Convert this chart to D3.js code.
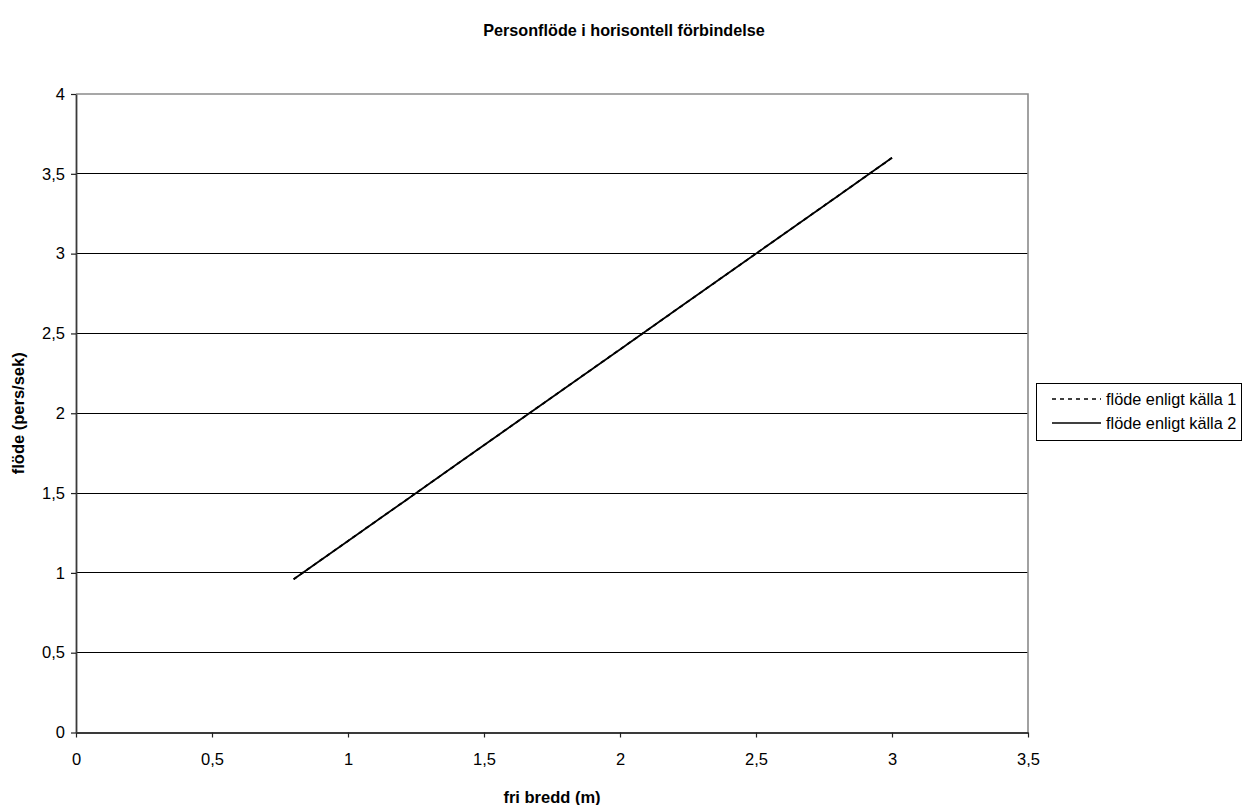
<!DOCTYPE html>
<html>
<head>
<meta charset="utf-8">
<script src="https://cdn.jsdelivr.net/npm/d3@7/dist/d3.min.js"></script>
<style>
  html, body { margin: 0; padding: 0; background: #fff; }
  svg { display: block; font-family: "Liberation Sans", Arial, sans-serif; }
</style>
</head>
<body>
<svg id="chart" width="1249" height="805"></svg>
<script>
// Free width (m) and person flow (pers/sek) per source
const widths = [0.8, 1.0, 1.2, 1.4, 1.6, 1.8, 2.0, 2.2, 2.4, 2.6, 2.8, 3.0];
const flowSource1 = [0.96, 1.2, 1.44, 1.68, 1.92, 2.16, 2.4, 2.64, 2.88, 3.12, 3.36, 3.6];
const flowSource2 = [0.96, 1.2, 1.44, 1.68, 1.92, 2.16, 2.4, 2.64, 2.88, 3.12, 3.36, 3.6];
const seriesNames = ["flöde enligt källa 1", "flöde enligt källa 2"];
const xTicks = [0, 0.5, 1, 1.5, 2, 2.5, 3, 3.5];
const yTicks = [0, 0.5, 1, 1.5, 2, 2.5, 3, 3.5, 4];

const titleText = "Personflöde i horisontell förbindelse";
const xTitle = "fri bredd (m)";
const yTitle = "flöde (pers/sek)";

const svg = d3.select("#chart");
const plot = { left: 76, right: 1028, top: 94, bottom: 732.5 };

const x = d3.scaleLinear().domain([0, 3.5]).range([plot.left, plot.right]);
const y = d3.scaleLinear().domain([0, 4]).range([plot.bottom, plot.top]);
const fmt = d => String(d).replace(".", ",");

// Horizontal gridlines
svg.append("g")
  .selectAll("line")
  .data(yTicks.filter(d => d > 0 && d < 4))
  .join("line")
  .attr("x1", plot.left).attr("x2", plot.right)
  .attr("y1", d => y(d)).attr("y2", d => y(d))
  .attr("stroke", "#000").attr("stroke-width", 1)
  .attr("shape-rendering", "crispEdges");

// Plot area border (top and right in grey)
svg.append("path")
  .attr("d", `M${plot.left},${plot.top}H${plot.right}V${plot.bottom}`)
  .attr("fill", "none").attr("stroke", "#8a8a8a").attr("stroke-width", 1.6);

// Axes
const xAxis = d3.axisBottom(x).tickValues(xTicks).tickFormat(fmt).tickSizeOuter(0).tickSizeInner(5).tickPadding(16);
const yAxis = d3.axisLeft(y).tickValues(yTicks).tickFormat(fmt).tickSizeOuter(0).tickSizeInner(5).tickPadding(6);

const gx = svg.append("g").attr("transform", `translate(0,${plot.bottom})`).call(xAxis);
const gy = svg.append("g").attr("transform", `translate(${plot.left},0)`).call(yAxis);
[gx, gy].forEach(g => {
  g.select("path.domain").attr("stroke", "#3a3a3a").attr("stroke-width", 1.8);
  g.selectAll(".tick line").attr("stroke", "#222").attr("stroke-width", 1.2);
  g.selectAll("text").attr("font-size", 16.5).attr("fill", "#000")
    .attr("font-family", "'Liberation Sans', Arial, sans-serif");
});

// Series lines
const line = d3.line().x((d, i) => x(widths[i])).y(d => y(d));
svg.append("path").datum(flowSource1)
  .attr("d", line).attr("fill", "none").attr("stroke", "#000")
  .attr("stroke-width", 1.8).attr("stroke-dasharray", "4,4");
svg.append("path").datum(flowSource2)
  .attr("d", line).attr("fill", "none").attr("stroke", "#000")
  .attr("stroke-width", 1.8);

// Titles
svg.append("text").attr("x", 624).attr("y", 36).attr("text-anchor", "middle")
  .attr("font-size", 16.2).attr("font-weight", "bold").text(titleText);
svg.append("text").attr("x", 552).attr("y", 803).attr("text-anchor", "middle")
  .attr("font-size", 16.5).attr("font-weight", "bold").text(xTitle);
svg.append("text").attr("transform", `translate(24,${(plot.top + plot.bottom) / 2}) rotate(-90)`)
  .attr("text-anchor", "middle")
  .attr("font-size", 16.5).attr("font-weight", "bold").text(yTitle);

// Legend
const legend = svg.append("g");
legend.append("rect").attr("x", 1036.5).attr("y", 383.5).attr("width", 205).attr("height", 57)
  .attr("fill", "#fff").attr("stroke", "#000").attr("stroke-width", 1);
seriesNames.forEach((name, i) => {
  const yy = 399 + i * 24;
  legend.append("line").attr("x1", 1052).attr("x2", 1101).attr("y1", yy).attr("y2", yy)
    .attr("stroke", "#000").attr("stroke-width", 1.5)
    .attr("stroke-dasharray", i === 0 ? "4,4" : null);
  legend.append("text").attr("x", 1106).attr("y", yy + 5.5)
    .attr("font-size", 16.3).text(name);
});
</script>
</body>
</html>
